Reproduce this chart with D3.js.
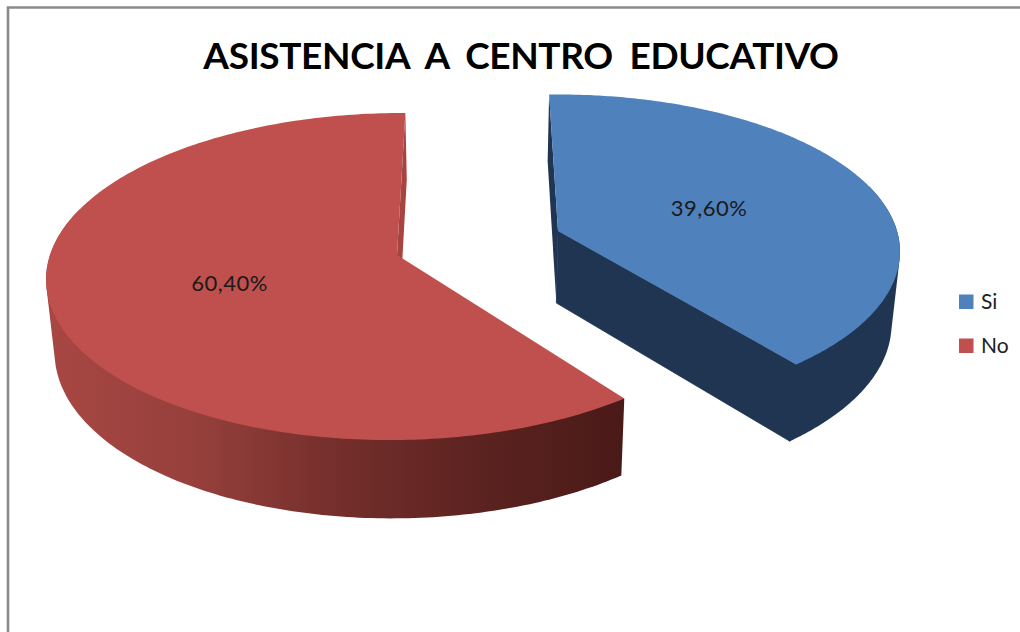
<!DOCTYPE html>
<html><head><meta charset="utf-8">
<style>html,body{margin:0;padding:0;background:#fff}svg{display:block}</style>
<script src="https://cdn.jsdelivr.net/npm/d3@7"></script></head>
<body><svg id="c" width="1020" height="632"></svg>
<script>
const titleText = "ASISTENCIA A CENTRO EDUCATIVO";
const categories = ["Si", "No"];
const values = [39.60, 60.40];
const labels = ["39,60%", "60,40%"];
const colors = ["#4f81bd", "#c0504d"];

const svg = d3.select("#c");
const rad = Math.PI / 180;
const K = 0.1315, DEPTH = 72, BASE = 0.98, VX = 476;
// view of each exploded slice: apex, plane radii, angle offset, shear
const views = [
  {ax: 558, ay: 231, rx: 339, ry: 154.5, off: 0, shear: 0},
  {ax: 397, ay: 255, rx: 347, ry: 160.7, off: 2.2 * rad, shear: -0.04}
];
const pie = d3.pie().sort(null).startAngle(-1.7 * rad).endAngle(358.3 * rad)(values);

function rim(v, t) {
  const s = 1 / (1 + K * Math.cos(t));
  const dy = -v.ry * Math.cos(t) * s;
  return {x: v.ax + v.rx * Math.sin(t) * s + v.shear * dy, y: v.ay + dy, s, t};
}
const top_ = p => [p.x, p.y];
const base = p => [VX + (p.x - VX) * BASE, p.y + DEPTH * Math.pow(p.s, 0.6)];
const line = d3.line();
const arcPts = (v, a0, a1) => d3.range(0, 241).map(i => rim(v, a0 + (a1 - a0) * i / 240));

const defs = svg.append("defs");
const g = defs.append("linearGradient").attr("id", "redWall").attr("gradientUnits", "userSpaceOnUse")
  .attr("x1", 47).attr("x2", 621).attr("y1", 0).attr("y2", 0);
[[0, "#a84743"], [0.25, "#97403c"], [0.5, "#752f2c"], [0.75, "#5c2320"], [1, "#4a1a18"]]
  .forEach(d => g.append("stop").attr("offset", d[0]).attr("stop-color", d[1]));

// frame
svg.append("path").attr("d", "M8,632V7.5H1020").attr("fill", "none").attr("stroke", "#8a8a8a").attr("stroke-width", 2.6);

// slices: No first, then Si
[1, 0].forEach(i => {
  const d = pie[i], v = views[i];
  const a0 = d.startAngle + v.off, a1 = d.endAngle + v.off;
  const pts = arcPts(v, a0, a1);
  const apex = {x: v.ax, y: v.ay, s: 1};
  const sg = svg.append("g");
  const dark = i === 0 ? "#1f3552" : "#a84440";
  const wallFill = i === 0 ? "#1f3552" : "url(#redWall)";
  const face = p => line([top_(apex), top_(p), base(p), base(apex)]) + "Z";
  // inner faces
  sg.append("path").attr("d", face(pts[pts.length - 1])).attr("fill", dark)
    .attr("stroke", i === 0 ? dark : "none").attr("stroke-width", 0.8);
  if (i === 0) sg.append("path").attr("d", face(pts[0])).attr("fill", dark);
  // outer wall: hull of the front part of both rims, the top face hides the rest
  const front = pts.filter(p => Math.cos(p.t) < 0.3);
  const hull = d3.polygonHull(front.map(top_).concat(front.map(base)));
  sg.append("path").attr("d", line(hull) + "Z").attr("fill", wallFill);
  // re-lay the end face seam on the dark slice so no light hairline shows
  if (i === 0) sg.append("path").attr("d", line([top_(pts[pts.length - 1]), base(pts[pts.length - 1])]))
    .attr("stroke", dark).attr("stroke-width", 1.2);
  // top face
  sg.append("path").attr("d", line([top_(apex)].concat(pts.map(top_))) + "Z").attr("fill", colors[i]);
});

// data labels
const labelPos = [[709, 210], [229.5, 285]];
svg.selectAll(".lab").data(labels).join("text").attr("class", "lab")
  .attr("x", (d, i) => labelPos[i][0]).attr("y", (d, i) => labelPos[i][1])
  .attr("text-anchor", "middle").attr("dominant-baseline", "middle")
  .attr("font-family", "Lato").attr("font-size", 22).attr("letter-spacing", 0.5).attr("fill", "#1a1a1a").text(d => d);

// title
svg.append("text").attr("x", 521).attr("y", 69).attr("text-anchor", "middle")
  .attr("font-family", "Lato").attr("font-weight", 700).attr("font-size", 37).attr("fill", "#000")
  .attr("letter-spacing", -0.35).attr("word-spacing", 8).text(titleText);

// legend
const ly = d3.scalePoint().domain(categories).range([301.5, 345.5]);
const leg = svg.selectAll(".leg").data(categories).join("g").attr("class", "leg")
  .attr("transform", d => `translate(959,${ly(d)})`);
leg.append("rect").attr("x", 0).attr("y", -7).attr("width", 14.5).attr("height", 14.5).attr("fill", (d, i) => colors[i]);
leg.append("text").attr("x", 22).attr("y", 7).attr("font-family", "Lato").attr("font-size", 21).attr("fill", "#222").text(d => d);
</script></body></html>
